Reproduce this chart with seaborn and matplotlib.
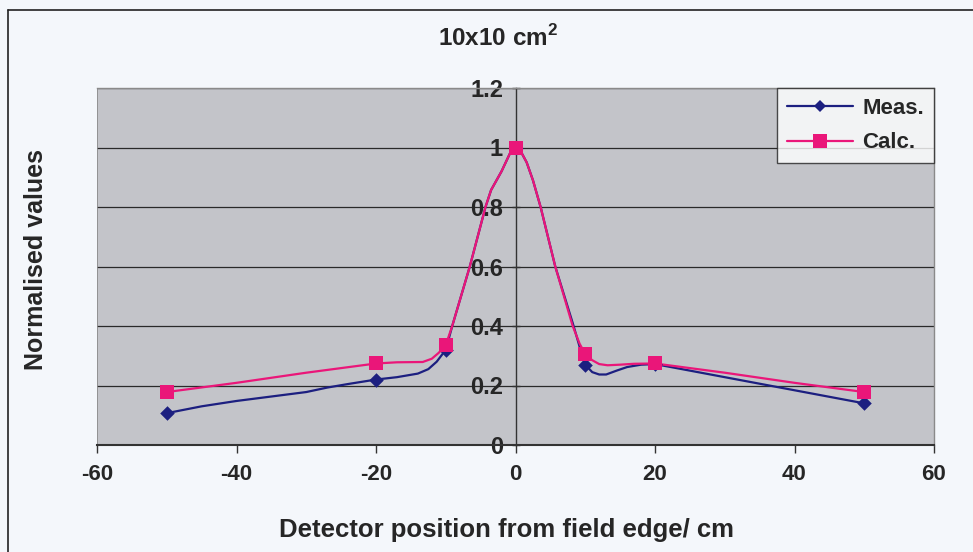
import matplotlib
matplotlib.use("Agg")
import matplotlib.pyplot as plt
from matplotlib.lines import Line2D
import seaborn as sns
import pandas as pd

# Detector positions carrying a marker, and the normalised values there
positions = [-50, -20, -10, 0, 10, 20, 50]
meas_values = [0.107, 0.22, 0.32, 1.0, 0.27, 0.272, 0.14]
calc_values = [0.178, 0.274, 0.336, 1.0, 0.306, 0.274, 0.178]

# Full profile traces (finer sampling between the marked positions)
meas_trace_x = [-50, -45, -40, -35, -30, -27, -24, -20, -17, -14, -12.5, -11.3,
                -10, -9.07, -6.55, -4.3, -3.5, -2, -0.6, 0, 0.8, 1.6, 2.5, 3.6,
                5.7, 8.2, 9.2, 10, 11, 12, 13, 14.5, 16, 18, 20, 30, 40, 50]
meas_trace_y = [0.107, 0.13, 0.148, 0.163, 0.178, 0.193, 0.205, 0.22, 0.228,
                0.24, 0.255, 0.28, 0.32, 0.4, 0.6, 0.8, 0.857, 0.92, 0.99, 1.0,
                0.985, 0.95, 0.89, 0.80, 0.60, 0.41, 0.33, 0.27, 0.245, 0.237,
                0.237, 0.25, 0.262, 0.27, 0.272, 0.228, 0.184, 0.14]

calc_trace_x = [-50, -40, -30, -20, -17, -13.3, -12, -11, -10, -9.07, -6.55,
                -4.3, -3.5, -2, -0.6, 0, 0.8, 1.6, 2.5, 3.6, 5.7, 8.2, 9.2, 10,
                11, 12, 13.2, 15, 17, 20, 30, 40, 50]
calc_trace_y = [0.178, 0.209, 0.243, 0.274, 0.278, 0.279, 0.29, 0.31, 0.336,
                0.4, 0.6, 0.8, 0.857, 0.92, 0.99, 1.0, 0.985, 0.95, 0.89, 0.80,
                0.60, 0.40, 0.34, 0.306, 0.285, 0.272, 0.268, 0.27, 0.273,
                0.274, 0.243, 0.209, 0.178]

series_names = ["Meas.", "Calc."]
x_ticks = [-60, -40, -20, 0, 20, 40, 60]
y_ticks = [0, 0.2, 0.4, 0.6, 0.8, 1, 1.2]
y_tick_labels = ["0", "0.2", "0.4", "0.6", "0.8", "1", "1.2"]

MEAS_COLOR = "#1c1f80"
CALC_COLOR = "#ea1679"

sns.set_theme(style="white")
plt.rcParams["font.family"] = ["Liberation Sans", "DejaVu Sans"]
plt.rcParams["mathtext.fontset"] = "custom"
plt.rcParams["mathtext.rm"] = "Liberation Sans:bold"
plt.rcParams["mathtext.bf"] = "Liberation Sans:bold"

fig = plt.figure(figsize=(9.73, 5.52), dpi=100)
fig.patch.set_facecolor("#f4f7fb")
ax = fig.add_axes([97 / 973, 1 - 445 / 552, (934 - 97) / 973, (445 - 88) / 552])
ax.set_facecolor("#c3c4c9")

# y axis runs through x = 0
ax.spines["left"].set_position(("data", 0))

meas_trace = pd.DataFrame({"x": meas_trace_x, "y": meas_trace_y})
calc_trace = pd.DataFrame({"x": calc_trace_x, "y": calc_trace_y})
marks = pd.DataFrame({"x": positions, "meas": meas_values, "calc": calc_values})

sns.lineplot(data=meas_trace, x="x", y="y", sort=False, estimator=None,
             color=MEAS_COLOR, linewidth=1.6, ax=ax, zorder=3)
sns.lineplot(data=calc_trace, x="x", y="y", sort=False, estimator=None,
             color=CALC_COLOR, linewidth=1.6, ax=ax, zorder=4)
sns.scatterplot(data=marks, x="x", y="meas", marker="D", s=55,
                color=MEAS_COLOR, edgecolor=MEAS_COLOR, linewidth=0, ax=ax, zorder=5)
sns.scatterplot(data=marks, x="x", y="calc", marker="s", s=110,
                color=CALC_COLOR, edgecolor=CALC_COLOR, linewidth=0, ax=ax, zorder=6)

ax.set_xlim(-60, 60)
ax.set_ylim(0, 1.2)
ax.set_xlabel("")
ax.set_ylabel("")

# gridlines
ax.set_axisbelow(True)
ax.yaxis.grid(True, color="#2a2a2a", linewidth=0.9)
ax.xaxis.grid(False)

ax.spines["left"].set_color("#333333")
ax.spines["left"].set_linewidth(1.0)
ax.spines["bottom"].set_color("#333333")
ax.spines["bottom"].set_linewidth(1.5)
for side in ("top", "right"):
    ax.spines[side].set_color("#8a8a8a")
    ax.spines[side].set_linewidth(1.0)

ax.set_xticks(x_ticks)
ax.set_xticklabels([str(v) for v in x_ticks], fontsize=16, fontweight="bold")
ax.set_yticks(y_ticks)
ax.set_yticklabels(y_tick_labels, fontsize=17, fontweight="bold")

ax.tick_params(axis="x", direction="out", length=6, width=1, color="#333333",
               pad=8, bottom=True)
ax.tick_params(axis="y", direction="inout", length=6, width=1, color="#333333",
               pad=6, left=True)
for lab in ax.get_yticklabels():
    lab.set_zorder(7)

# left plot-area edge (the y spine sits at zero)
ax.axvline(-60, color="#8a8a8a", linewidth=1.2, zorder=2)

fig.text(498 / 973, 1 - 38 / 552, r"10x10 cm$^{2}$", ha="center", va="center",
         fontsize=17.5, fontweight="bold")
fig.text(507 / 973, 1 - 530 / 552, "Detector position from field edge/ cm",
         ha="center", va="center", fontsize=18.5, fontweight="bold")
fig.text(36 / 973, 1 - 260 / 552, "Normalised values", ha="center", va="center",
         rotation=90, fontsize=18, fontweight="bold")

handles = [
    Line2D([], [], color=MEAS_COLOR, linewidth=1.6, marker="D", markersize=6,
           markeredgewidth=0),
    Line2D([], [], color=CALC_COLOR, linewidth=1.6, marker="s", markersize=10,
           markeredgewidth=0),
]
leg = ax.legend(handles, series_names, loc="upper right", bbox_to_anchor=(1.0, 1.0),
                borderaxespad=0.0, frameon=True, fancybox=False, handlelength=3.0,
                handletextpad=0.4, borderpad=0.45, labelspacing=0.6,
                prop={"weight": "bold", "size": 16})
leg.get_frame().set_edgecolor("#222222")
leg.get_frame().set_linewidth(1.0)
leg.get_frame().set_facecolor("white")
leg.set_zorder(10)

# outer chart border
fig.add_artist(Line2D([8 / 973, 8 / 973], [0, 1 - 10 / 552], transform=fig.transFigure,
                      color="#222222", linewidth=1.2))
fig.add_artist(Line2D([8 / 973, 1], [1 - 10 / 552, 1 - 10 / 552], transform=fig.transFigure,
                      color="#222222", linewidth=1.2))

fig.savefig("out.png", dpi=100, facecolor=fig.get_facecolor())
